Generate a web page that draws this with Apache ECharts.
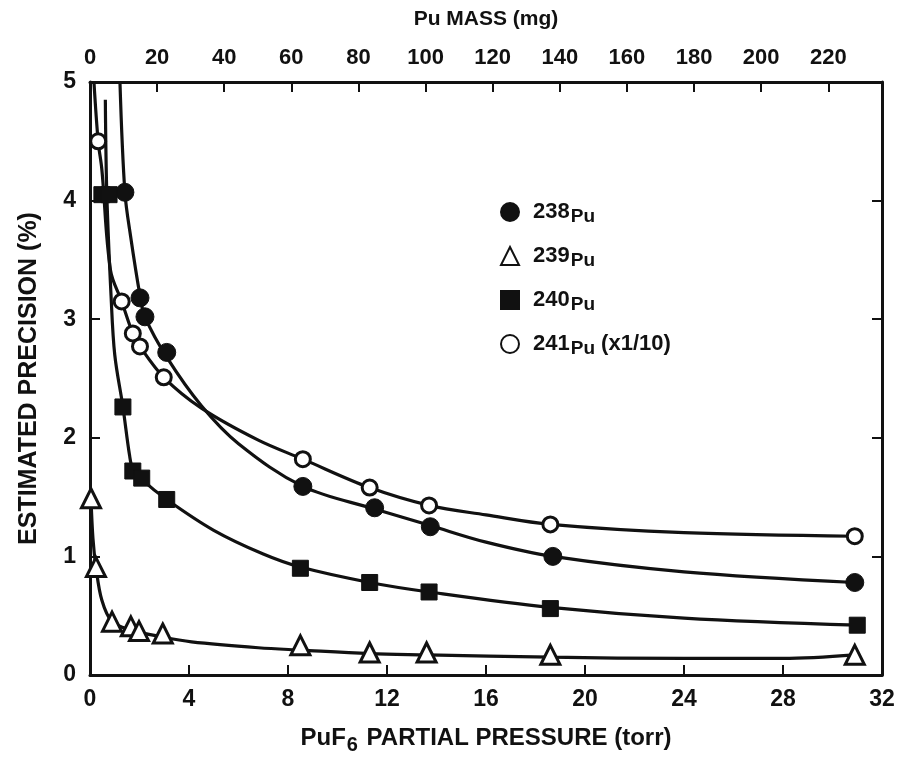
<!DOCTYPE html>
<html>
<head>
<meta charset="utf-8">
<script src="https://cdn.jsdelivr.net/npm/echarts@6/dist/echarts.min.js"></script>
<style>
html,body{margin:0;padding:0;background:#fff;}
#chart{width:900px;height:760px;}
</style>
</head>
<body>
<div id="chart"></div>
<script>
// ---- tick definitions ----
const pressureTicks = [0, 4, 8, 12, 16, 20, 24, 28, 32];
const massTicks = [0, 20, 40, 60, 80, 100, 120, 140, 160, 180, 200, 220];
const massMax = 236;          // Pu mass (mg) at the right edge (32 torr)
const precisionTicks = [0, 1, 2, 3, 4, 5];

// ---- measured points (x: PuF6 pressure, torr ; y: precision, %) ----
const pu238X = [1.41, 2.02, 2.22, 3.1, 8.6, 11.5, 13.75, 18.7, 30.9];
const pu238Y = [4.07, 3.18, 3.02, 2.72, 1.59, 1.41, 1.25, 1.0, 0.78];

const pu239X = [0.04, 0.24, 0.89, 1.65, 1.98, 2.94, 8.5, 11.3, 13.6, 18.6, 30.9];
const pu239Y = [1.49, 0.91, 0.45, 0.41, 0.37, 0.35, 0.25, 0.19, 0.19, 0.17, 0.17];

const pu240X = [0.48, 0.77, 1.33, 1.73, 2.09, 3.1, 8.5, 11.3, 13.7, 18.6, 31.0];
const pu240Y = [4.05, 4.05, 2.26, 1.72, 1.66, 1.48, 0.90, 0.78, 0.70, 0.56, 0.42];

const pu241X = [0.33, 1.28, 1.73, 2.02, 2.98, 8.6, 11.3, 13.7, 18.6, 30.9];
const pu241Y = [4.50, 3.15, 2.88, 2.77, 2.51, 1.82, 1.58, 1.43, 1.27, 1.17];

// ---- fitted curves ----
const curve238X = [1.21, 1.41, 1.64, 2.02, 2.22, 3.1, 4.5, 6.0, 8.6, 11.5, 13.75, 16, 18.7, 24, 30.9];
const curve238Y = [5.0, 4.07, 3.7, 3.2, 3.02, 2.68, 2.27, 1.95, 1.59, 1.40, 1.26, 1.12, 1.0, 0.87, 0.78];

const curve239X = [0.04, 0.12, 0.24, 0.48, 0.89, 1.65, 2.94, 4.1, 6.8, 8.5, 11.3, 13.6, 18.6, 24, 28, 30.9];
const curve239Y = [1.49, 1.15, 0.91, 0.63, 0.45, 0.38, 0.32, 0.28, 0.23, 0.21, 0.18, 0.17, 0.15, 0.14, 0.14, 0.17];

const curve240X = [0.62, 0.68, 0.85, 1.0, 1.33, 1.6, 1.73, 2.09, 3.1, 5.0, 7.0, 8.5, 11.3, 13.7, 18.6, 24, 31.0];
const curve240Y = [4.85, 4.05, 3.2, 2.7, 2.26, 1.85, 1.74, 1.65, 1.48, 1.22, 1.02, 0.91, 0.78, 0.70, 0.57, 0.48, 0.42];

const curve241X = [0.16, 0.33, 0.48, 0.83, 1.28, 1.73, 2.02, 2.98, 4.5, 6.8, 8.6, 11.3, 13.7, 16, 18.6, 24, 30.9];
const curve241Y = [5.0, 4.5, 4.26, 3.41, 3.15, 2.88, 2.77, 2.51, 2.25, 1.98, 1.82, 1.58, 1.43, 1.35, 1.27, 1.2, 1.17];

const seriesNames = ['238Pu', '239Pu', '240Pu', '241Pu (x1/10)'];

const zip = (xs, ys) => xs.map((x, i) => [x, ys[i]]);
const INK = '#111';
const FONT = '"Liberation Sans", Arial, sans-serif';

const chart = echarts.init(document.getElementById('chart'), null, {renderer: 'canvas'});

function curve(name, xs, ys) {
  return {
    name: name, type: 'line', data: zip(xs, ys), xAxisIndex: 0, yAxisIndex: 0,
    smooth: 0.35, showSymbol: false, symbol: 'none', silent: true, z: 2,
    lineStyle: {color: INK, width: 3.2, opacity: 1}
  };
}
function markers(name, xs, ys, symbol, size, filled) {
  return {
    name: name, type: 'scatter', data: zip(xs, ys), xAxisIndex: 0, yAxisIndex: 0,
    symbol: symbol, symbolSize: size, z: 5,
    itemStyle: filled ? {color: INK, borderColor: INK, borderWidth: 1, opacity: 1}
                      : {color: '#fff', borderColor: INK, borderWidth: 3, opacity: 1}
  };
}

const legendLabel = {
  '238Pu': ['238', 'Pu', ''],
  '239Pu': ['239', 'Pu', ''],
  '240Pu': ['240', 'Pu', ''],
  '241Pu (x1/10)': ['241', 'Pu', ' (x1/10)']
};

const option = {
  backgroundColor: '#fff',
  animation: false,
  grid: {left: 90, right: 18, top: 82, bottom: 85, containLabel: false},
  legend: {
    data: seriesNames,
    orient: 'vertical',
    left: 495, top: 196,
    itemWidth: 18, itemHeight: 18, itemGap: 19,
    selectedMode: false,
    formatter: function (n) {
      const p = legendLabel[n];
      return '{m|' + p[0] + '}{p|' + p[1] + '}' + (p[2] ? '{m|' + p[2] + '}' : '');
    },
    textStyle: {
      color: INK,
      rich: {
        m: {fontFamily: FONT, fontWeight: 'bold', fontSize: 22, color: INK},
        p: {fontFamily: FONT, fontWeight: 'bold', fontSize: 19, color: INK, padding: [9, 0, 0, 1]}
      },
      padding: [0, 0, 0, 9]
    }
  },
  xAxis: [
    {
      type: 'value', position: 'bottom', min: 0, max: 32, interval: 4,
      name: '{a|PuF}{s|6}{a| PARTIAL PRESSURE (torr)}',
      nameLocation: 'middle', nameGap: 47,
      nameTextStyle: {
        rich: {
          a: {fontFamily: FONT, fontWeight: 'bold', fontSize: 24, color: INK},
          s: {fontFamily: FONT, fontWeight: 'bold', fontSize: 20, color: INK, padding: [13, 2, 0, 1]}
        }
      },
      axisLine: {show: true, onZero: false, lineStyle: {color: INK, width: 3}},
      axisTick: {show: true, inside: true, length: 10, lineStyle: {color: INK, width: 2}},
      axisLabel: {margin: 13, color: INK, fontFamily: FONT, fontWeight: 'bold', fontSize: 23},
      splitLine: {show: false}
    },
    {
      type: 'value', position: 'top', min: 0, max: massMax, interval: 20,
      name: 'Pu MASS (mg)',
      nameLocation: 'middle', nameGap: 52,
      nameTextStyle: {fontFamily: FONT, fontWeight: 'bold', fontSize: 21, color: INK},
      axisLine: {show: true, onZero: false, lineStyle: {color: INK, width: 3}},
      axisTick: {show: true, inside: true, length: 10, lineStyle: {color: INK, width: 2},
                 interval: function (i, v) { return massTicks.indexOf(v) >= 0; }},
      axisLabel: {margin: 13, color: INK, fontFamily: FONT, fontWeight: 'bold', fontSize: 22,
                  showMaxLabel: false,
                  formatter: function (v) { return massTicks.indexOf(v) >= 0 ? String(v) : ''; }},
      splitLine: {show: false}
    }
  ],
  yAxis: [
    {
      type: 'value', position: 'left', min: 0, max: 5, interval: 1,
      name: 'ESTIMATED PRECISION (%)',
      nameLocation: 'middle', nameGap: 48, nameRotate: 90,
      nameTextStyle: {fontFamily: FONT, fontWeight: 'bold', fontSize: 25, color: INK},
      axisLine: {show: true, onZero: false, lineStyle: {color: INK, width: 3}},
      axisTick: {show: true, inside: true, length: 10, lineStyle: {color: INK, width: 2}},
      axisLabel: {margin: 14, color: INK, fontFamily: FONT, fontWeight: 'bold', fontSize: 23,
                  formatter: function (v) { return precisionTicks.indexOf(v) >= 0 ? String(v) : ''; }},
      splitLine: {show: false}
    },
    {
      type: 'value', position: 'right', min: 0, max: 5, interval: 1,
      axisLine: {show: true, onZero: false, lineStyle: {color: INK, width: 3}},
      axisTick: {show: true, inside: true, length: 10, lineStyle: {color: INK, width: 2}},
      axisLabel: {show: false},
      splitLine: {show: false}
    }
  ],
  series: [
    curve('c238', curve238X, curve238Y),
    curve('c239', curve239X, curve239Y),
    curve('c240', curve240X, curve240Y),
    curve('c241', curve241X, curve241Y),
    markers(seriesNames[0], pu238X, pu238Y, 'circle', 18, true),
    markers(seriesNames[1], pu239X, pu239Y, 'triangle', 19, false),
    markers(seriesNames[2], pu240X, pu240Y, 'rect', 16, true),
    markers(seriesNames[3], pu241X, pu241Y, 'circle', 15, false)
  ]
};
chart.setOption(option);
</script>
</body>
</html>
